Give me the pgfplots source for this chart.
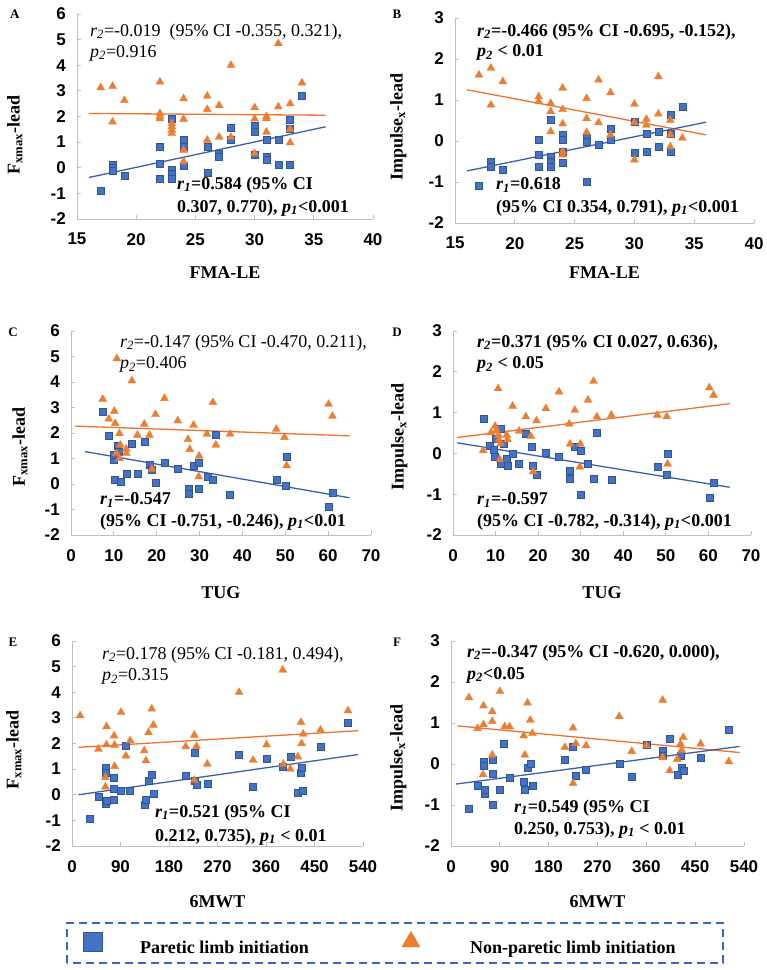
\documentclass[border=0pt]{standalone}
\usepackage{fontspec}
\setmainfont{Liberation Serif}
\newfontfamily\ticksf{Liberation Sans}
\usepackage{pgfplots}
\pgfplotsset{compat=1.18}
\definecolor{pblue}{HTML}{4472C4}
\definecolor{pbluedk}{HTML}{2F5597}
\definecolor{porange}{HTML}{ED7D31}
\definecolor{axgray}{HTML}{BFBFBF}
\definecolor{legblue}{HTML}{3366CC}
\pgfplotsset{
 panel/.style={
  scale only axis, axis x line*=bottom, axis y line*=left,
  axis line style={axgray, line width=0.8pt},
  tick style={axgray, line width=0.8pt}, tick align=inside, major tick length=4pt,
  enlargelimits=false, clip=false, scaled ticks=false,
  /pgf/number format/assume math mode=true,
  tick label style={font=\ticksf\bfseries\fontsize{17}{17}\selectfont, text=black},
  yticklabel style={inner xsep=0pt, xshift=-11pt},
  xticklabel style={inner ysep=0pt, yshift=-14pt},
  label style={font=\bfseries\fontsize{18}{20}\selectfont},
 },
 bluepts/.style={only marks, mark=square*, mark size=3.5pt, mark options={fill=pblue, draw=pbluedk, line width=0.4pt}},
 orpts/.style={only marks, mark=triangle*, mark size=4.6pt, mark options={fill=porange, draw=porange, line width=0.3pt}},
 blueln/.style={no marks, draw=pblue!85!black, line width=1.3pt},
 orln/.style={no marks, draw=porange!90!red, line width=1.3pt},
}
\newcommand{\ann}{\fontsize{18}{20}\selectfont}
\newcommand{\annb}{\bfseries\fontsize{18}{20}\selectfont}
\newcommand{\plet}{\bfseries\fontsize{13}{13}\selectfont}
\begin{document}
\begin{tikzpicture}
\path[use as bounding box] (0,0) rectangle (767pt,-970pt);

% ---------------- A ----------------
\begin{axis}[panel, at={(77pt,-219pt)}, anchor=south west, width=296pt, height=205pt,
  xmin=15, xmax=40, ymin=-2, ymax=6, xtick={15,20,...,40}, ytick={-2,...,6},
  xlabel={FMA-LE}, ylabel={F\textsubscript{xmax}-lead},
  xlabel style={at={(axis description cs:0.5,-0.263)}, anchor=center},
  ylabel style={at={(axis description cs:-0.21,0.41)}, anchor=center}]
\addplot[bluepts] coordinates {(17,-0.9) (18,0.12) (18,0) (18,-0.12) (19,-0.31) (22,0.84) (22,0.17) (22,-0.43) (23,1.92) (23,-0.09) (23,-0.22) (23,-0.42) (24,1.1) (24,0.82) (24,0.07) (26,0.82) (26,-0.19) (27,0.56) (27,0.43) (28,1.56) (28,1.1) (30,1.66) (30,1.4) (30,0.52) (31,1.08) (31,0.43) (31,0.3) (32,1.1) (32,0.1) (33,1.88) (33,1.53) (33,0.1) (34,2.8)};
\addplot[orpts] coordinates {(17,3.13) (18,3.18) (18,1.79) (19,2.63) (22,3.35) (22,2.12) (22,2.0) (22,1.92) (23,1.73) (23,1.6) (23,1.47) (23,1.34) (24,2.7) (24,1.9) (24,0.69) (24,0.24) (26,2.8) (26,2.28) (26,1.08) (27,2.43) (27,1.2) (28,4.0) (28,1.2) (30,2.35) (30,1.91) (30,0.56) (31,2.0) (31,1.92) (31,1.39) (32,4.85) (32,2.38) (33,2.5) (33,1.5) (33,0.98) (34,3.31)};
\addplot[orln] coordinates {(16,2.12) (36,2.05)};
\addplot[blueln] coordinates {(16,-0.38) (36,1.6)};
\node[font=\plet] at (axis description cs:-0.21,1.0) {A};
\node[anchor=west, inner sep=0pt, font=\ann] at (axis cs:16.1,5.3) {\textit{r\textsubscript{2}}=-0.019\ \ (95\% CI -0.355, 0.321),};
\node[anchor=west, inner sep=0pt, font=\ann] at (axis cs:16.1,4.48) {\textit{p\textsubscript{2}}=0.916};
\node[anchor=west, inner sep=0pt, font=\annb] at (axis cs:23.45,-0.67) {\textit{r\textsubscript{1}}=0.584 (95\% CI};
\node[anchor=west, inner sep=0pt, font=\annb] at (axis cs:23.45,-1.57) {0.307, 0.770), \textit{p\textsubscript{1}}<0.001};
\end{axis}

% ---------------- B ----------------
\begin{axis}[panel, at={(455pt,-223pt)}, anchor=south west, width=299pt, height=205pt,
  xmin=15, xmax=40, ymin=-2, ymax=3, xtick={15,20,...,40}, ytick={-2,...,3},
  xlabel={FMA-LE}, ylabel={Impulse\textsubscript{x}-lead},
  xlabel style={at={(axis description cs:0.5,-0.244)}, anchor=center},
  ylabel style={at={(axis description cs:-0.19,0.47)}, anchor=center}]
\addplot[bluepts] coordinates {(17,-1.08) (18,-0.51) (18,-0.63) (19,-0.71) (22,0.02) (22,-0.33) (22,-0.63) (23,0.51) (23,-0.38) (23,-0.5) (23,-0.63) (24,0.15) (24,0.04) (24,-0.26) (24,-0.53) (26,0.09) (26,-0.02) (26,-1.0) (27,-0.1) (28,0.31) (28,0.02) (30,0.47) (30,-0.29) (31,0.19) (31,-0.26) (32,0.23) (32,-0.14) (33,0.64) (33,0.19) (33,-0.26) (34,0.84)};
\addplot[orpts] coordinates {(17,1.61) (18,1.78) (18,0.88) (19,1.45) (22,1.08) (22,0.96) (23,0.92) (23,0.72) (23,0.23) (24,1.29) (24,0.77) (24,0.42) (24,-0.26) (24,-0.34) (26,1.04) (26,0.55) (26,0.21) (27,1.49) (27,0.45) (28,1.18) (28,0.15) (30,0.9) (30,0.45) (30,-0.46) (31,0.53) (31,0.39) (32,1.57) (32,0.66) (33,0.51) (33,0.15) (33,-0.14) (34,0.07)};
\addplot[orln] coordinates {(16,1.25) (36,0.15)};
\addplot[blueln] coordinates {(16,-0.73) (36,0.46)};
\node[font=\plet] at (axis description cs:-0.194,1.02) {B};
\node[anchor=west, inner sep=0pt, font=\annb] at (axis cs:16.84,2.66) {\textit{r\textsubscript{2}}=-0.466 (95\% CI -0.695, -0.152),};
\node[anchor=west, inner sep=0pt, font=\annb] at (axis cs:16.84,2.15) {\textit{p\textsubscript{2}} < 0.01};
\node[anchor=west, inner sep=0pt, font=\annb] at (axis cs:18.43,-1.07) {\textit{r\textsubscript{1}}=0.618};
\node[anchor=west, inner sep=0pt, font=\annb] at (axis cs:18.43,-1.63) {(95\% CI 0.354, 0.791), \textit{p\textsubscript{1}}<0.001};
\end{axis}

% ---------------- C ----------------
\begin{axis}[panel, at={(71pt,-535pt)}, anchor=south west, width=300pt, height=204pt,
  xmin=0, xmax=70, ymin=-2, ymax=6, xtick={0,10,...,70}, ytick={-2,...,6},
  xlabel={TUG}, ylabel={F\textsubscript{xmax}-lead},
  xlabel style={at={(axis description cs:0.5,-0.284)}, anchor=center},
  ylabel style={at={(axis description cs:-0.17,0.43)}, anchor=center}]
\addplot[bluepts] coordinates {(7.4,2.83) (8.8,1.88) (10,0.94) (10,1.13) (10.1,0.16) (10.9,1.49) (11.1,1.27) (11.7,0.09) (12.9,0.42) (14.2,1.57) (15.6,0.42) (17.1,1.66) (18.3,0.77) (18.9,0.55) (19.7,0.05) (21.8,0.85) (24.9,0.61) (27.4,-0.17) (27.4,-0.37) (28.6,0.72) (29.9,0.85) (29.9,-0.17) (31.9,0.29) (33.1,0.16) (33.8,1.92) (37.1,-0.43) (47.9,0.16) (50,-0.08) (50.3,1.07) (60.1,-0.89) (61,-0.33)};
\addplot[orpts] coordinates {(7.4,3.33) (10.1,2.86) (8.8,2.55) (10.3,2.38) (10.7,4.92) (11.3,1.98) (11.5,1.53) (10.6,1.2) (11.3,1.0) (12.9,1.37) (12.9,1.2) (14.2,4.05) (15.5,1.92) (17.1,2.35) (18.3,1.92) (18.9,0.59) (19.7,2.73) (21.8,3.36) (24.9,2.48) (27.3,1.75) (27.7,1.36) (28.6,2.31) (29.9,1.1) (29.8,0.29) (31.7,1.96) (33.1,3.2) (33.8,1.53) (37.1,1.96) (47.9,2.15) (49.8,1.83) (50.3,0.72) (60.1,3.13) (61,2.66)};
\addplot[orln] coordinates {(1,2.27) (65,1.89)};
\addplot[blueln] coordinates {(3.3,1.27) (65,-0.54)};
\node[font=\plet] at (axis description cs:-0.193,0.995) {C};
\node[anchor=west, inner sep=0pt, font=\ann] at (axis cs:11.4,5.53) {\textit{r\textsubscript{2}}=-0.147 (95\% CI -0.470, 0.211),};
\node[anchor=west, inner sep=0pt, font=\ann] at (axis cs:11.4,4.67) {\textit{p\textsubscript{2}}=0.406};
\node[anchor=west, inner sep=0pt, font=\annb] at (axis cs:6.77,-0.63) {\textit{r\textsubscript{1}}=-0.547};
\node[anchor=west, inner sep=0pt, font=\annb] at (axis cs:6.77,-1.49) {(95\% CI -0.751, -0.246), \textit{p\textsubscript{1}}<0.01};
\end{axis}

% ---------------- D ----------------
\begin{axis}[panel, at={(453pt,-535pt)}, anchor=south west, width=298pt, height=204pt,
  xmin=0, xmax=70, ymin=-2, ymax=3, xtick={0,10,...,70}, ytick={-2,...,3},
  xlabel={TUG}, ylabel={Impulse\textsubscript{x}-lead},
  xlabel style={at={(axis description cs:0.5,-0.284)}, anchor=center},
  ylabel style={at={(axis description cs:-0.18,0.48)}, anchor=center}]
\addplot[bluepts] coordinates {(7.1,0.86) (8.7,0.18) (9.6,0.08) (9.9,-0.08) (10,0.37) (11.2,0.61) (11.1,-0.24) (12,0.24) (12.6,-0.12) (12.8,-0.29) (14,0) (15.5,-0.24) (17.1,0.49) (18.4,0.16) (18.8,-0.29) (19.6,-0.53) (21.8,0.02) (24.9,-0.08) (27.3,-0.42) (27.5,-0.63) (28.6,0.16) (29.9,0.07) (29.9,-1.0) (31.7,-0.24) (33,-0.63) (33.8,0.51) (37.2,-0.65) (48,-0.33) (50.2,-0.51) (50.4,0) (60.2,-1.08) (61.2,-0.71)};
\addplot[orpts] coordinates {(7.1,0.07) (8.9,0.51) (9.9,0.67) (10.2,0.57) (10.6,1.59) (10.7,0.45) (10.8,0.33) (11,-0.15) (11.2,0.24) (12.6,0.45) (12.8,0.34) (14,1.16) (15.5,0.55) (17.1,0.9) (18.3,0.42) (18.8,-0.45) (19.6,0.8) (21.8,1.1) (24.9,1.51) (27.3,0.72) (27.5,0.23) (28.6,1.06) (29.9,0.23) (29.8,-0.33) (31.7,1.31) (33,1.77) (33.8,0.9) (37.2,0.94) (48,0.94) (50.2,0.9) (50.4,-0.26) (60.2,1.61) (61.2,1.43)};
\addplot[orln] coordinates {(1,0.39) (65,1.22)};
\addplot[blueln] coordinates {(1,0.26) (65,-0.83)};
\node[font=\plet] at (axis description cs:-0.188,0.995) {D};
\node[anchor=west, inner sep=0pt, font=\annb] at (axis cs:5.64,2.71) {\textit{r\textsubscript{2}}=0.371 (95\% CI 0.027, 0.636),};
\node[anchor=west, inner sep=0pt, font=\annb] at (axis cs:5.64,2.17) {\textit{p\textsubscript{2}} < 0.05};
\node[anchor=west, inner sep=0pt, font=\annb] at (axis cs:5.64,-1.14) {\textit{r\textsubscript{1}}=-0.597};
\node[anchor=west, inner sep=0pt, font=\annb] at (axis cs:5.64,-1.68) {(95\% CI -0.782, -0.314), \textit{p\textsubscript{1}}<0.001};
\end{axis}

% ---------------- E ----------------
\begin{axis}[panel, at={(72pt,-846pt)}, anchor=south west, width=291pt, height=205pt,
  xmin=0, xmax=540, ymin=-2, ymax=6, xtick={0,90,...,540}, ytick={-2,...,6},
  xlabel={6MWT}, ylabel={F\textsubscript{xmax}-lead},
  xlabel style={at={(axis description cs:0.5,-0.273)}, anchor=center},
  ylabel style={at={(axis description cs:-0.2,0.47)}, anchor=center}]
\addplot[bluepts] coordinates {(33,-0.95) (49,-0.08) (62,1.07) (62,0.87) (62,-0.34) (65,-0.23) (78,0.68) (78,0.22) (78,-0.21) (91,0.16) (99,1.91) (108,0.16) (134,-0.39) (137,-0.21) (142,0.55) (148,0.78) (151,0.05) (211,0.74) (227,1.65) (227,0.55) (231,0.39) (251,0.42) (310,1.55) (336,0.33) (361,1.39) (391,1.11) (405,1.48) (419,0.09) (425,0.87) (426,1.07) (429,0.16) (461,1.88) (512,2.8)};
\addplot[orpts] coordinates {(15,3.09) (49,1.78) (64,2.66) (64,1.95) (62,0.68) (62,0.31) (78,2.3) (79,1.94) (79,1.11) (91,3.22) (100,1.52) (108,2.11) (134,1.72) (137,1.33) (142,2.43) (148,3.35) (151,2.72) (211,1.88) (227,2.33) (227,0.57) (231,1.89) (251,1.2) (310,4.0) (336,1.35) (361,1.95) (391,4.87) (392,1.2) (405,1.0) (419,1.48) (425,2.83) (426,2.0) (429,2.37) (461,2.53) (512,3.28)};
\addplot[orln] coordinates {(12,1.85) (531,2.5)};
\addplot[blueln] coordinates {(12,0.0) (531,1.57)};
\node[font=\plet] at (axis description cs:-0.203,0.995) {E};
\node[anchor=west, inner sep=0pt, font=\ann] at (axis cs:55.7,5.46) {\textit{r\textsubscript{2}}=0.178 (95\% CI -0.181, 0.494),};
\node[anchor=west, inner sep=0pt, font=\ann] at (axis cs:55.7,4.6) {\textit{p\textsubscript{2}}=0.315};
\node[anchor=west, inner sep=0pt, font=\annb] at (axis cs:154,-0.71) {\textit{r\textsubscript{1}}=0.521 (95\% CI};
\node[anchor=west, inner sep=0pt, font=\annb] at (axis cs:154,-1.65) {0.212, 0.735), \textit{p\textsubscript{1}} < 0.01};
\end{axis}

% ---------------- F ----------------
\begin{axis}[panel, at={(451pt,-846pt)}, anchor=south west, width=293pt, height=205pt,
  xmin=0, xmax=540, ymin=-2, ymax=3, xtick={0,90,...,540}, ytick={-2,...,3},
  xlabel={6MWT}, ylabel={Impulse\textsubscript{x}-lead},
  xlabel style={at={(axis description cs:0.5,-0.273)}, anchor=center},
  ylabel style={at={(axis description cs:-0.18,0.43)}, anchor=center}]
\addplot[bluepts] coordinates {(33,-1.08) (49,-0.53) (60,0.06) (60,-0.04) (62,-0.73) (62,-0.63) (76,0.1) (76,-0.24) (76,-0.99) (90,-0.63) (98,0.49) (108,-0.34) (134,-0.43) (136,-0.63) (141,-0.08) (146,0) (150,-0.53) (210,0.1) (225,0.43) (230,-0.28) (249,-0.15) (310,0) (333,-0.32) (360,0.47) (390,0.32) (390,0.2) (403,0.61) (417,-0.26) (423,0.2) (426,-0.08) (428,-0.16) (460,0.16) (512,0.83)};
\addplot[orpts] coordinates {(33,1.62) (49,0.87) (60,1.42) (60,0.96) (59,-0.26) (76,1.28) (76,1.04) (76,0.22) (90,1.77) (99,0.91) (108,0.91) (134,0.69) (136,0.22) (141,1.49) (146,1.07) (150,0.75) (210,0.41) (225,0.88) (225,-0.47) (230,0.5) (249,0.45) (310,1.16) (333,0.31) (360,0.45) (390,1.56) (390,0.16) (403,-0.16) (417,0.12) (423,0.49) (425,0.34) (428,0.65) (460,0.49) (512,0.06)};
\addplot[orln] coordinates {(12,0.93) (532,0.28)};
\addplot[blueln] coordinates {(9,-0.49) (532,0.43)};
\node[font=\plet] at (axis description cs:-0.184,0.995) {F};
\node[anchor=west, inner sep=0pt, font=\annb] at (axis cs:29.5,2.71) {\textit{r\textsubscript{2}}=-0.347 (95\% CI -0.620, 0.000),};
\node[anchor=west, inner sep=0pt, font=\annb] at (axis cs:29.5,2.17) {\textit{p\textsubscript{2}}<0.05};
\node[anchor=west, inner sep=0pt, font=\annb] at (axis cs:116,-1.07) {\textit{r\textsubscript{1}}=0.549 (95\% CI};
\node[anchor=west, inner sep=0pt, font=\annb] at (axis cs:116,-1.61) {0.250, 0.753), \textit{p\textsubscript{1}} < 0.01};
\end{axis}

% ---------------- Legend ----------------
\begin{axis}[at={(67pt,-963pt)}, anchor=south west, scale only axis, width=656pt, height=40pt,
  xmin=0, xmax=1, ymin=0, ymax=1, ticks=none,
  axis line style={draw=legblue, line width=1.6pt, dash pattern=on 8pt off 5pt},
  legend image code/.code={\draw[#1] plot coordinates {(0pt,6pt)};},
  legend columns=2,
  legend style={at={(axis description cs:0.0244,0.5)}, anchor=west, draw=none, fill=none,
    inner sep=0pt, nodes={inner sep=0pt}, font=\bfseries\fontsize{18}{20}\selectfont,
    /tikz/every odd column/.style={column sep=0pt}},
  legend cell align=left]
\addlegendimage{only marks, mark=square*, mark size=9.5pt, mark options={solid, fill=pblue, draw=pbluedk, line width=0.8pt}}
\addlegendentry{\hspace*{38pt}Paretic limb initiation\hspace*{93pt}}
\addlegendimage{only marks, mark=triangle*, mark size=10.5pt, mark options={solid, fill=porange, draw=porange}}
\addlegendentry{\hspace*{50pt}Non-paretic limb initiation}
\end{axis}
\end{tikzpicture}
\end{document}
